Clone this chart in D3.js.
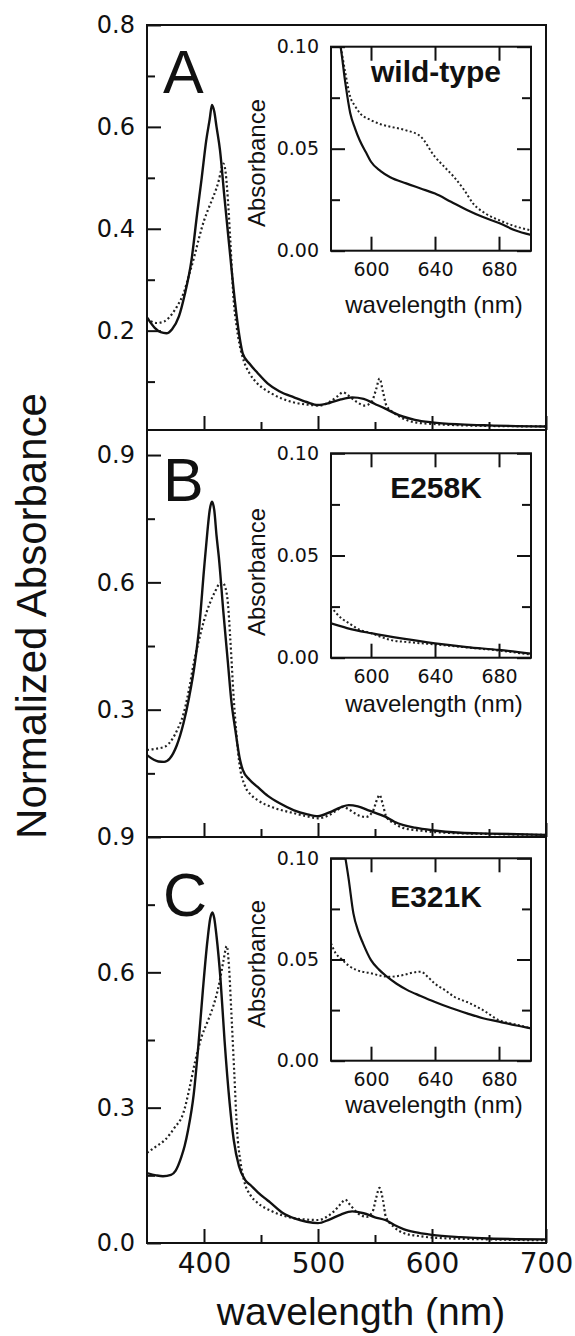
<!DOCTYPE html>
<html>
<head>
<meta charset="utf-8">
<script src="https://cdn.jsdelivr.net/npm/d3@7"></script>
<style>
  body { margin: 0; background: #fff; }
  svg { display: block; }
  .tick text { fill: #111; }
</style>
</head>
<body>
<svg id="chart" width="575" height="1336"></svg>
<script>
// ---- data ----
const panelLetters = ['A', 'B', 'C'];
const insetNames = ['wild-type', 'E258K', 'E321K'];

// y ticks of each main panel (value, label); panel B's bottom label reads "0.9" in the original
const yMajorA = [0.2, 0.4, 0.6, 0.8];
const yLabelsA = ['0.2', '0.4', '0.6', '0.8'];
const yMinorA = [0.1, 0.3, 0.5, 0.7];
const yMajorB = [0.0, 0.3, 0.6, 0.9];
const yLabelsB = ['0.9', '0.3', '0.6', '0.9'];
const yMajorC = [0.0, 0.3, 0.6];
const yLabelsC = ['0.0', '0.3', '0.6'];
const yMinorBC = [0.15, 0.45, 0.75];

const xMajor = [400, 500, 600, 700];
const xMinor = [450, 550, 650];
const insetXTicks = [600, 640, 680];
const insetYTicks = [0, 0.05, 0.1];
const insetYLabels = ['0.00', '0.05', '0.10'];
const insetYMinor = [0.025, 0.075];

// panel A, solid and dotted spectra
const solidA_nm = [350, 357, 362, 367, 372, 378, 383, 389, 394, 398, 402, 405, 407, 409, 411, 414, 418, 422, 427, 431, 434, 440, 447, 456, 466, 479, 490, 500, 510, 520, 530, 540, 550, 559, 567, 575, 585, 600, 625, 650, 700];
const solidA = [0.226, 0.205, 0.197, 0.195, 0.203, 0.228, 0.27, 0.338, 0.43, 0.50, 0.574, 0.615, 0.643, 0.63, 0.60, 0.555, 0.46, 0.37, 0.26, 0.19, 0.155, 0.135, 0.117, 0.096, 0.081, 0.069, 0.06, 0.054, 0.058, 0.065, 0.069, 0.066, 0.056, 0.047, 0.038, 0.031, 0.025, 0.02, 0.016, 0.014, 0.012];
const dotA_nm = [350, 358, 365, 372, 377, 382, 387, 392, 396, 400, 404, 408, 411, 413, 415, 417, 419, 421, 423, 426, 428.5, 431, 435, 440, 447, 459, 469, 479, 490, 501, 510, 517, 522, 527, 534, 541, 547, 551, 554, 557, 560, 567, 575, 585, 600, 650, 700];
const dotA = [0.224, 0.215, 0.218, 0.233, 0.25, 0.273, 0.31, 0.35, 0.385, 0.416, 0.44, 0.462, 0.48, 0.495, 0.515, 0.528, 0.51, 0.456, 0.38, 0.26, 0.21, 0.175, 0.14, 0.116, 0.096, 0.077, 0.066, 0.059, 0.055, 0.053, 0.06, 0.071, 0.079, 0.072, 0.06, 0.053, 0.06, 0.085, 0.106, 0.08, 0.053, 0.038, 0.027, 0.02, 0.017, 0.013, 0.012];

// panel B
const solidB_nm = [350, 356, 360, 365, 370, 376, 382, 387, 392, 396, 400, 403, 405, 407, 409, 411, 413, 417, 421, 424, 427.5, 431, 434, 440, 447, 456, 466, 479, 490, 500, 510, 520, 527, 535, 545, 559, 567, 575, 585, 600, 625, 650, 700];
const solidB = [0.193, 0.182, 0.178, 0.177, 0.185, 0.215, 0.268, 0.33, 0.41, 0.50, 0.63, 0.72, 0.77, 0.79, 0.77, 0.71, 0.66, 0.53, 0.41, 0.32, 0.252, 0.19, 0.158, 0.135, 0.118, 0.097, 0.08, 0.063, 0.054, 0.049, 0.058, 0.07, 0.075, 0.072, 0.062, 0.048, 0.036, 0.028, 0.022, 0.016, 0.01, 0.008, 0.005];
const dotB_nm = [350, 358, 366, 372, 377, 382, 387, 391, 395, 400, 405, 410, 413, 416, 419, 421, 423, 426, 428.5, 431, 436, 441, 447, 460, 479, 490, 500, 510, 517, 522, 527, 534, 542, 548, 552, 554, 557, 560, 567, 575, 590, 600, 650, 700];
const dotB = [0.205, 0.208, 0.213, 0.23, 0.255, 0.29, 0.35, 0.41, 0.457, 0.51, 0.55, 0.58, 0.595, 0.6, 0.585, 0.55, 0.47, 0.33, 0.24, 0.174, 0.12, 0.1, 0.087, 0.07, 0.056, 0.049, 0.044, 0.052, 0.064, 0.071, 0.065, 0.053, 0.047, 0.06, 0.09, 0.099, 0.075, 0.047, 0.032, 0.021, 0.015, 0.012, 0.007, 0.005];

// panel C
const solidC_nm = [350, 358, 364, 371, 375, 380, 383, 386, 391, 395, 399, 403, 405.5, 407.4, 409, 411, 414.5, 418, 422.5, 426, 430.7, 436, 441, 447, 453, 458, 469.5, 480, 490, 500, 510, 520, 530, 540, 550, 559, 567, 575, 585, 600, 625, 650, 700];
const solidC = [0.155, 0.15, 0.148, 0.151, 0.16, 0.19, 0.215, 0.25, 0.33, 0.436, 0.56, 0.67, 0.72, 0.733, 0.72, 0.68, 0.584, 0.45, 0.31, 0.23, 0.17, 0.14, 0.128, 0.113, 0.1, 0.09, 0.066, 0.054, 0.047, 0.044, 0.052, 0.063, 0.07, 0.066, 0.057, 0.051, 0.04, 0.031, 0.024, 0.018, 0.013, 0.01, 0.008];
const dotC_nm = [350, 358, 366, 374, 382, 387, 392, 398, 403, 408, 412, 414.5, 417, 420, 422, 424, 426.5, 429, 432, 435, 441, 447, 460, 479, 500, 510, 517, 521, 524, 528, 535, 543, 548, 551, 554, 557, 559.5, 567, 575, 590, 600, 650, 700];
const dotC = [0.2, 0.214, 0.229, 0.255, 0.289, 0.34, 0.4, 0.458, 0.49, 0.524, 0.56, 0.59, 0.625, 0.658, 0.61, 0.51, 0.38, 0.25, 0.18, 0.14, 0.105, 0.089, 0.07, 0.055, 0.051, 0.062, 0.078, 0.09, 0.096, 0.085, 0.066, 0.058, 0.07, 0.1, 0.122, 0.095, 0.058, 0.035, 0.022, 0.015, 0.012, 0.008, 0.006];

// insets (575-700 nm)
const inSolidA_nm = [577, 581, 584, 587, 590, 593, 597, 600, 606, 612, 622, 631, 640, 650, 660, 670, 680, 690, 700];
const inSolidA = [0.115, 0.1, 0.082, 0.0675, 0.06, 0.054, 0.048, 0.0436, 0.039, 0.036, 0.033, 0.0305, 0.028, 0.024, 0.02, 0.0165, 0.0136, 0.010, 0.0077];
const inDotA_nm = [577, 581, 584, 587, 590, 593, 600, 606, 612, 622, 631, 640, 646, 652, 658, 664, 672, 680, 690, 700];
const inDotA = [0.11, 0.1, 0.087, 0.0755, 0.071, 0.0675, 0.064, 0.062, 0.0608, 0.059, 0.056, 0.046, 0.041, 0.036, 0.03, 0.023, 0.018, 0.015, 0.012, 0.01];
const inSolidB_nm = [575, 585, 600, 620, 640, 660, 680, 700];
const inSolidB = [0.0168, 0.0145, 0.012, 0.0093, 0.007, 0.0052, 0.0038, 0.002];
const inDotB_nm = [575, 578, 582, 586, 592, 600, 612, 625, 640, 660, 680, 700];
const inDotB = [0.025, 0.022, 0.019, 0.017, 0.014, 0.012, 0.0087, 0.0075, 0.0065, 0.005, 0.0035, 0.0015];
const inSolidC_nm = [583, 586, 589, 592, 595, 600, 605, 610, 616, 622.5, 631, 640, 650, 660, 670, 680, 690, 700];
const inSolidC = [0.105, 0.09, 0.0728, 0.064, 0.058, 0.0497, 0.045, 0.0415, 0.038, 0.035, 0.032, 0.029, 0.026, 0.0234, 0.021, 0.0193, 0.0175, 0.016];
const inDotC_nm = [575, 578, 581, 586, 591, 600, 606, 612, 620, 626, 631, 636, 640, 646, 652, 660, 670, 680, 690, 700];
const inDotC = [0.058, 0.053, 0.0506, 0.047, 0.0448, 0.0432, 0.042, 0.0415, 0.0423, 0.0435, 0.044, 0.041, 0.038, 0.035, 0.0316, 0.029, 0.025, 0.02, 0.018, 0.016];

// ---- layout ----
const svg = d3.select('#chart');
const left = 147, right = 546;
const numFont = 'DejaVu Sans, sans-serif';
const txtFont = 'Liberation Sans, Arial, Helvetica, sans-serif';

const zip = (xs, ys) => xs.map((x, i) => [x, ys[i]]);

const panels = [
  { top: 25, bottom: 430, yDomain: [0.005, 0.8], major: yMajorA, labels: yLabelsA, minor: yMinorA,
    solid: zip(solidA_nm, solidA), dotted: zip(dotA_nm, dotA), letterY: 93,
    inset: { top: 46.7, bottom: 250.7, nameY: 82, titleY: 313, absY: 163,
             solid: zip(inSolidA_nm, inSolidA), dotted: zip(inDotA_nm, inDotA) } },
  { top: 430, bottom: 837, yDomain: [0, 0.959], major: yMajorB, labels: yLabelsB, minor: yMinorBC,
    solid: zip(solidB_nm, solidB), dotted: zip(dotB_nm, dotB), letterY: 501,
    inset: { top: 453.3, bottom: 657.7, nameY: 498, titleY: 712, absY: 572,
             solid: zip(inSolidB_nm, inSolidB), dotted: zip(inDotB_nm, inDotB) } },
  { top: 837, bottom: 1243, yDomain: [0, 0.9], major: yMajorC, labels: yLabelsC, minor: yMinorBC,
    solid: zip(solidC_nm, solidC), dotted: zip(dotC_nm, dotC), letterY: 916,
    inset: { top: 858.3, bottom: 1060.7, nameY: 907, titleY: 1113, absY: 964,
             solid: zip(inSolidC_nm, inSolidC), dotted: zip(inDotC_nm, inDotC) } }
];

const x = d3.scaleLinear().domain([350, 700]).range([left, right]);
const ix = d3.scaleLinear().domain([575, 700]).range([331, 531]);

const defs = svg.append('defs');

function styleAxis(g, fontSize) {
  g.select('.domain').remove();
  g.selectAll('.tick line').attr('stroke', '#111').attr('stroke-width', 2);
  g.selectAll('.tick text').attr('font-family', numFont).attr('font-size', fontSize);
}

panels.forEach((p, i) => {
  const y = d3.scaleLinear().domain(p.yDomain).range([p.bottom, p.top]);
  const g = svg.append('g');

  const clipId = 'clip' + i;
  defs.append('clipPath').attr('id', clipId).append('rect')
    .attr('x', left).attr('y', p.top).attr('width', right - left).attr('height', p.bottom - p.top);

  // spectra
  const line = d3.line().x(d => x(d[0])).y(d => y(d[1])).curve(d3.curveMonotoneX);
  const curves = g.append('g').attr('clip-path', `url(#${clipId})`);
  curves.append('path').datum(p.dotted).attr('d', line)
    .attr('fill', 'none').attr('stroke', '#222').attr('stroke-width', 2.2)
    .attr('stroke-dasharray', '2,2.6');
  curves.append('path').datum(p.solid).attr('d', line)
    .attr('fill', 'none').attr('stroke', '#111').attr('stroke-width', 2.4);

  // left ticks
  g.append('g').attr('transform', `translate(${left},0)`)
    .call(d3.axisLeft(y).tickValues(p.major).tickSize(-14).tickPadding(12)
      .tickFormat((d, k) => p.labels[k]))
    .call(ax => styleAxis(ax, 24));
  g.append('g').attr('transform', `translate(${left},0)`)
    .call(d3.axisLeft(y).tickValues(p.minor).tickSize(-8).tickFormat(''))
    .call(ax => styleAxis(ax, 24));

  // bottom ticks
  const isLast = i === panels.length - 1;
  g.append('g').attr('transform', `translate(0,${p.bottom})`)
    .call(d3.axisBottom(x).tickValues(xMajor).tickSize(-14).tickPadding(10)
      .tickFormat(isLast ? d3.format('d') : ''))
    .call(ax => styleAxis(ax, 28));
  g.append('g').attr('transform', `translate(0,${p.bottom})`)
    .call(d3.axisBottom(x).tickValues(xMinor).tickSize(-8).tickFormat(''))
    .call(ax => styleAxis(ax, 28));

  // frame
  g.append('rect').attr('x', left).attr('y', p.top)
    .attr('width', right - left).attr('height', p.bottom - p.top)
    .attr('fill', 'none').attr('stroke', '#111').attr('stroke-width', 2);

  // panel letter
  g.append('text').attr('x', 163).attr('y', p.letterY)
    .attr('font-family', txtFont).attr('font-size', 61).attr('fill', '#111')
    .text(panelLetters[i]);

  // ---- inset ----
  const q = p.inset;
  const iy = d3.scaleLinear().domain([0, 0.1]).range([q.bottom, q.top]);
  const ig = svg.append('g');
  const iclip = 'iclip' + i;
  defs.append('clipPath').attr('id', iclip).append('rect')
    .attr('x', ix.range()[0]).attr('y', q.top)
    .attr('width', ix.range()[1] - ix.range()[0]).attr('height', q.bottom - q.top);

  ig.append('rect').attr('x', ix.range()[0]).attr('y', q.top)
    .attr('width', ix.range()[1] - ix.range()[0]).attr('height', q.bottom - q.top)
    .attr('fill', '#fff');

  const iline = d3.line().x(d => ix(d[0])).y(d => iy(d[1])).curve(d3.curveMonotoneX);
  const ic = ig.append('g').attr('clip-path', `url(#${iclip})`);
  ic.append('path').datum(q.dotted).attr('d', iline)
    .attr('fill', 'none').attr('stroke', '#222').attr('stroke-width', 2)
    .attr('stroke-dasharray', '2,2.4');
  ic.append('path').datum(q.solid).attr('d', iline)
    .attr('fill', 'none').attr('stroke', '#111').attr('stroke-width', 2.2);

  const [ix0, ix1] = ix.range();
  ig.append('g').attr('transform', `translate(${ix0},0)`)
    .call(d3.axisLeft(iy).tickValues(insetYTicks).tickSize(-14).tickPadding(12)
      .tickFormat((d, k) => insetYLabels[k]))
    .call(ax => styleAxis(ax, 19));
  ig.append('g').attr('transform', `translate(${ix0},0)`)
    .call(d3.axisLeft(iy).tickValues(insetYMinor).tickSize(-9).tickFormat(''))
    .call(ax => styleAxis(ax, 19));
  ig.append('g').attr('transform', `translate(${ix1},0)`)
    .call(d3.axisRight(iy).tickValues(insetYTicks).tickSize(-14).tickFormat(''))
    .call(ax => styleAxis(ax, 19));
  ig.append('g').attr('transform', `translate(${ix1},0)`)
    .call(d3.axisRight(iy).tickValues(insetYMinor).tickSize(-9).tickFormat(''))
    .call(ax => styleAxis(ax, 19));
  ig.append('g').attr('transform', `translate(0,${q.bottom})`)
    .call(d3.axisBottom(ix).tickValues(insetXTicks).tickSize(-14).tickPadding(12)
      .tickFormat(d3.format('d')))
    .call(ax => styleAxis(ax, 19));
  ig.append('g').attr('transform', `translate(0,${q.top})`)
    .call(d3.axisTop(ix).tickValues(insetXTicks).tickSize(-14).tickFormat(''))
    .call(ax => styleAxis(ax, 19));

  ig.append('rect').attr('x', ix0).attr('y', q.top)
    .attr('width', ix1 - ix0).attr('height', q.bottom - q.top)
    .attr('fill', 'none').attr('stroke', '#111').attr('stroke-width', 2);

  ig.append('text').attr('x', 436).attr('y', q.nameY)
    .attr('text-anchor', 'middle').attr('font-family', txtFont)
    .attr('font-weight', 'bold').attr('font-size', 30).attr('fill', '#111')
    .text(insetNames[i]);

  ig.append('text').attr('x', 434).attr('y', q.titleY)
    .attr('text-anchor', 'middle').attr('font-family', txtFont)
    .attr('font-size', 24).attr('fill', '#111')
    .text('wavelength (nm)');

  ig.append('text').attr('transform', `translate(265,${q.absY}) rotate(-90)`)
    .attr('text-anchor', 'middle').attr('font-family', txtFont)
    .attr('font-size', 24).attr('fill', '#111')
    .text('Absorbance');
});

// axis titles
svg.append('text').attr('x', 361).attr('y', 1325)
  .attr('text-anchor', 'middle').attr('font-family', txtFont)
  .attr('font-size', 39).attr('fill', '#111')
  .text('wavelength (nm)');

svg.append('text').attr('transform', 'translate(46,616) rotate(-90)')
  .attr('text-anchor', 'middle').attr('font-family', txtFont)
  .attr('font-size', 42).attr('fill', '#111')
  .text('Normalized Absorbance');
</script>
</body>
</html>
